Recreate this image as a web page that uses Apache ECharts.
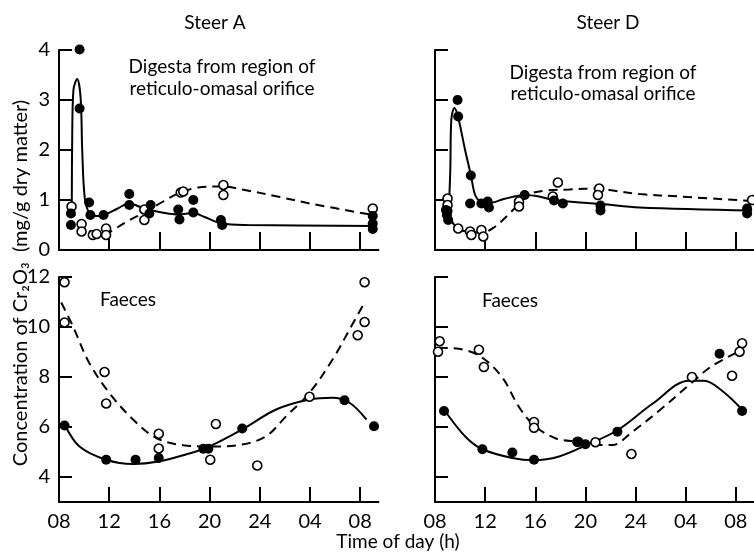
<!DOCTYPE html>
<html>
<head>
<meta charset="utf-8">
<script src="https://cdn.jsdelivr.net/npm/echarts@6/dist/echarts.min.js"></script>
<style>html,body{margin:0;padding:0;background:#fff}#c{width:754px;height:554px}</style>
</head>
<body>
<div id="c"></div>
<script>
// ---- tick labels ----
const xTickValues = [8, 12, 16, 20, 24, 28, 32];
const xTickLabels = ['08', '12', '16', '20', '24', '04', '08'];
const topYTicks = [0, 1, 2, 3, 4];
const bottomYTicks = [4, 6, 8, 10, 12];
const panelTitles = ['Steer A', 'Steer D'];

// ---- Steer A, digesta (time h, mg/g) ----
const digA_filled = [[9.64,4.01],[9.64,2.83],[8.95,0.73],[8.95,0.5],[10.4,0.95],[10.5,0.7],[11.55,0.7],[13.6,1.12],[13.6,0.9],[15.3,0.9],[15.2,0.73],[17.5,0.81],[17.6,0.61],[18.7,1.0],[18.7,0.75],[20.9,0.6],[21.0,0.5],[33.0,0.68],[33.0,0.53],[33.0,0.42]];
const digA_open = [[9.0,0.87],[9.8,0.52],[9.8,0.37],[10.7,0.3],[11.0,0.32],[11.75,0.43],[11.75,0.3],[14.8,0.81],[14.8,0.6],[17.7,1.15],[17.9,1.17],[21.1,1.3],[21.1,1.1],[33.0,0.83]];
const digA_solid = [[9.02,0.9],[9.05,2.2],[9.15,3.2],[9.45,3.42],[9.72,3.05],[9.85,2.0],[10.05,1.05],[10.4,0.75],[11.0,0.68],[11.6,0.7],[12.6,0.82],[13.6,0.93],[14.5,0.86],[15.3,0.8],[16.2,0.75],[17.5,0.71],[18.7,0.74],[19.6,0.66],[21.0,0.53],[23.0,0.5],[33.3,0.48]];
const digA_dashed = [[9.0,0.85],[9.45,0.6],[10.5,0.37],[11.8,0.33],[12.3,0.4],[13.65,0.6],[14.8,0.75],[16.3,0.97],[17.5,1.13],[19.1,1.25],[21.0,1.27],[22.8,1.2],[25.4,1.07],[28.0,0.93],[33.0,0.7]];

// ---- Steer D, digesta ----
const digD_filled = [[9.8,3.0],[9.85,2.67],[10.86,1.49],[8.87,0.8],[9.0,0.78],[8.95,0.7],[9.05,0.6],[10.8,0.93],[11.7,0.93],[12.2,0.97],[12.3,0.85],[15.15,1.1],[17.5,0.99],[18.2,0.93],[21.2,0.89],[21.2,0.79],[32.9,0.83],[32.9,0.73]];
const digD_open = [[9.0,1.03],[9.0,0.9],[9.85,0.43],[10.8,0.37],[10.9,0.3],[11.7,0.4],[11.85,0.27],[14.7,0.97],[14.7,0.87],[17.8,1.35],[17.4,1.07],[21.1,1.23],[21.0,1.1],[33.3,1.0]];
const digD_solid = [[9.1,0.8],[9.22,1.6],[9.3,2.6],[9.55,2.84],[9.85,2.65],[10.4,2.0],[10.86,1.5],[11.2,1.1],[11.6,0.97],[12.2,0.93],[13.5,1.02],[15.15,1.1],[16.3,1.07],[17.5,1.0],[19.5,0.95],[21.3,0.92],[24.3,0.85],[33.3,0.79]];
const digD_dashed = [[9.0,0.95],[9.3,0.6],[9.85,0.43],[10.8,0.36],[11.8,0.35],[12.7,0.45],[13.7,0.67],[14.7,0.92],[15.55,1.12],[16.9,1.19],[18.7,1.21],[21.1,1.23],[22.2,1.19],[24.3,1.12],[27.5,1.07],[33.3,0.98]];

// ---- Steer A, faeces ----
const faeA_filled = [[8.44,6.06],[11.76,4.69],[14.1,4.69],[15.95,4.76],[19.5,5.13],[19.9,5.13],[22.6,5.94],[30.75,7.07],[33.1,6.03]];
const faeA_open = [[8.44,11.79],[8.44,10.18],[11.63,8.2],[11.76,6.94],[15.95,5.73],[15.95,5.14],[20.5,6.12],[20.05,4.69],[23.8,4.46],[27.96,7.21],[31.8,9.67],[32.35,10.2],[32.35,11.79]];
const faeA_solid = [[8.5,6.05],[9.63,5.22],[11.76,4.69],[13.9,4.52],[15.95,4.62],[18.1,4.9],[19.9,5.2],[22.6,5.9],[25.3,6.7],[27.96,7.1],[29.8,7.17],[31.15,6.97],[32.5,6.3]];
const faeA_dashed = [[8.18,10.98],[9.1,10.04],[10.4,8.57],[12.0,7.37],[13.9,6.3],[15.75,5.56],[17.9,5.27],[20.5,5.22],[22.6,5.3],[24.5,5.63],[26.1,6.43],[27.96,7.37],[29.8,8.7],[31.15,9.9],[32.2,10.85]];

// ---- Steer D, faeces ----
const faeD_filled = [[8.72,6.64],[11.78,5.11],[14.17,4.98],[15.9,4.69],[19.44,5.41],[20.0,5.31],[22.55,5.81],[30.7,8.93],[32.5,6.64]];
const faeD_open = [[8.37,9.43],[8.24,9.01],[11.5,9.09],[11.9,8.4],[15.9,6.2],[15.9,5.97],[19.36,5.41],[20.8,5.39],[23.67,4.92],[28.5,8.0],[31.7,8.05],[32.5,9.35],[32.3,9.01]];
const faeD_solid = [[8.8,6.64],[10.45,5.6],[11.78,5.11],[14.17,4.76],[15.9,4.67],[17.9,4.82],[20.0,5.26],[22.55,5.87],[25.35,6.93],[28.27,7.85],[29.47,7.85],[30.9,7.45],[32.5,6.7]];
const faeD_dashed = [[8.3,9.17],[10.2,9.1],[11.78,8.77],[13.37,7.98],[14.7,6.8],[15.9,6.07],[17.6,5.55],[19.5,5.4],[21.1,5.28],[22.15,5.28],[23.75,5.81],[25.9,6.66],[28.5,7.78],[30.1,8.44],[32.3,9.03]];

const FONT = 'Lato';
const X_MIN = 8, X_MAX = 33.45;
const grids = [
  {left: 59, top: 50, width: 319.4, height: 200},
  {left: 435, top: 50, width: 319.4, height: 200},
  {left: 59, top: 277, width: 319.4, height: 225},
  {left: 435, top: 277, width: 319.4, height: 225}
];

function xAxis(i, showLabels) {
  return {
    type: 'value', gridIndex: i, min: X_MIN, max: X_MAX,
    axisLine: {show: true, lineStyle: {color: '#000', width: 2}},
    axisTick: {show: true, inside: true, length: i < 2 ? 18 : 15, lineStyle: {color: '#000', width: 2}, customValues: xTickValues.slice(1)},
    axisLabel: {show: showLabels, customValues: xTickValues, margin: 10, color: '#000', fontFamily: FONT, fontSize: 20,
      formatter: v => { const k = xTickValues.indexOf(Math.round(v)); return k >= 0 ? xTickLabels[k] : ''; }},
    splitLine: {show: false}
  };
}
function yAxis(i, isTop, showLabels) {
  const ticks = isTop ? topYTicks : bottomYTicks;
  return {
    type: 'value', gridIndex: i, min: isTop ? 0 : 3, max: isTop ? 4 : 12,
    axisLine: {show: true, lineStyle: {color: '#000', width: 2}},
    axisTick: {show: true, inside: true, length: 13, lineStyle: {color: '#000', width: 2}, customValues: ticks},
    axisLabel: {show: showLabels, customValues: ticks, margin: 9, color: '#000', fontFamily: FONT, fontSize: 20},
    splitLine: {show: false}
  };
}

const panels = [
  [digA_filled, digA_open, digA_solid, digA_dashed],
  [digD_filled, digD_open, digD_solid, digD_dashed],
  [faeA_filled, faeA_open, faeA_solid, faeA_dashed],
  [faeD_filled, faeD_open, faeD_solid, faeD_dashed]
];
const series = [];
panels.forEach((p, i) => {
  series.push({type: 'line', xAxisIndex: i, yAxisIndex: i, data: p[2], smooth: 0.35, showSymbol: false, silent: true,
    lineStyle: {color: '#000', width: 2}, z: 2});
  series.push({type: 'line', xAxisIndex: i, yAxisIndex: i, data: p[3], smooth: 0.35, showSymbol: false, silent: true,
    lineStyle: {color: '#000', width: 2, type: [9, 6]}, z: 2});
  series.push({type: 'scatter', xAxisIndex: i, yAxisIndex: i, data: p[1], symbol: 'circle', symbolSize: 9, clip: false,
    itemStyle: {color: '#fff', borderColor: '#000', borderWidth: 1.6, opacity: 1}, z: 3});
  series.push({type: 'scatter', xAxisIndex: i, yAxisIndex: i, data: p[0], symbol: 'circle', symbolSize: 10, clip: false,
    itemStyle: {color: '#000', opacity: 1}, z: 4});
});

const txt = (x, y, s, size, align) => ({type: 'text', x: x, y: y, style: {text: s, fill: '#000', font: size + 'px ' + FONT, textAlign: align || 'center', textVerticalAlign: 'middle'}});

const chart = echarts.init(document.getElementById('c'), null, {renderer: 'canvas'});
chart.setOption({
  animation: false,
  backgroundColor: '#fff',
  grid: grids,
  xAxis: [xAxis(0, false), xAxis(1, false), xAxis(2, true), xAxis(3, true)],
  yAxis: [yAxis(0, true, true), yAxis(1, true, false), yAxis(2, false, true), yAxis(3, false, false)],
  series: series,
  graphic: [
    txt(215, 23, panelTitles[0], 19),
    txt(608, 23, panelTitles[1], 19),
    txt(222, 67, 'Digesta from region of', 19),
    txt(222, 89, 'reticulo-omasal orifice', 19),
    txt(603, 73, 'Digesta from region of', 19),
    txt(603, 94, 'reticulo-omasal orifice', 19),
    txt(100, 300, 'Faeces', 19, 'left'),
    txt(482, 301, 'Faeces', 19, 'left'),
    txt(398, 542, 'Time of day (h)', 19),
    {type: 'text', x: 21, y: 283, rotation: Math.PI / 2,
      style: {text: 'Concentration of Cr\u2082O\u2083  (mg/g dry matter)', fill: '#000', font: '20px ' + FONT, textAlign: 'center', textVerticalAlign: 'middle'}}
  ]
});
</script>
</body>
</html>
